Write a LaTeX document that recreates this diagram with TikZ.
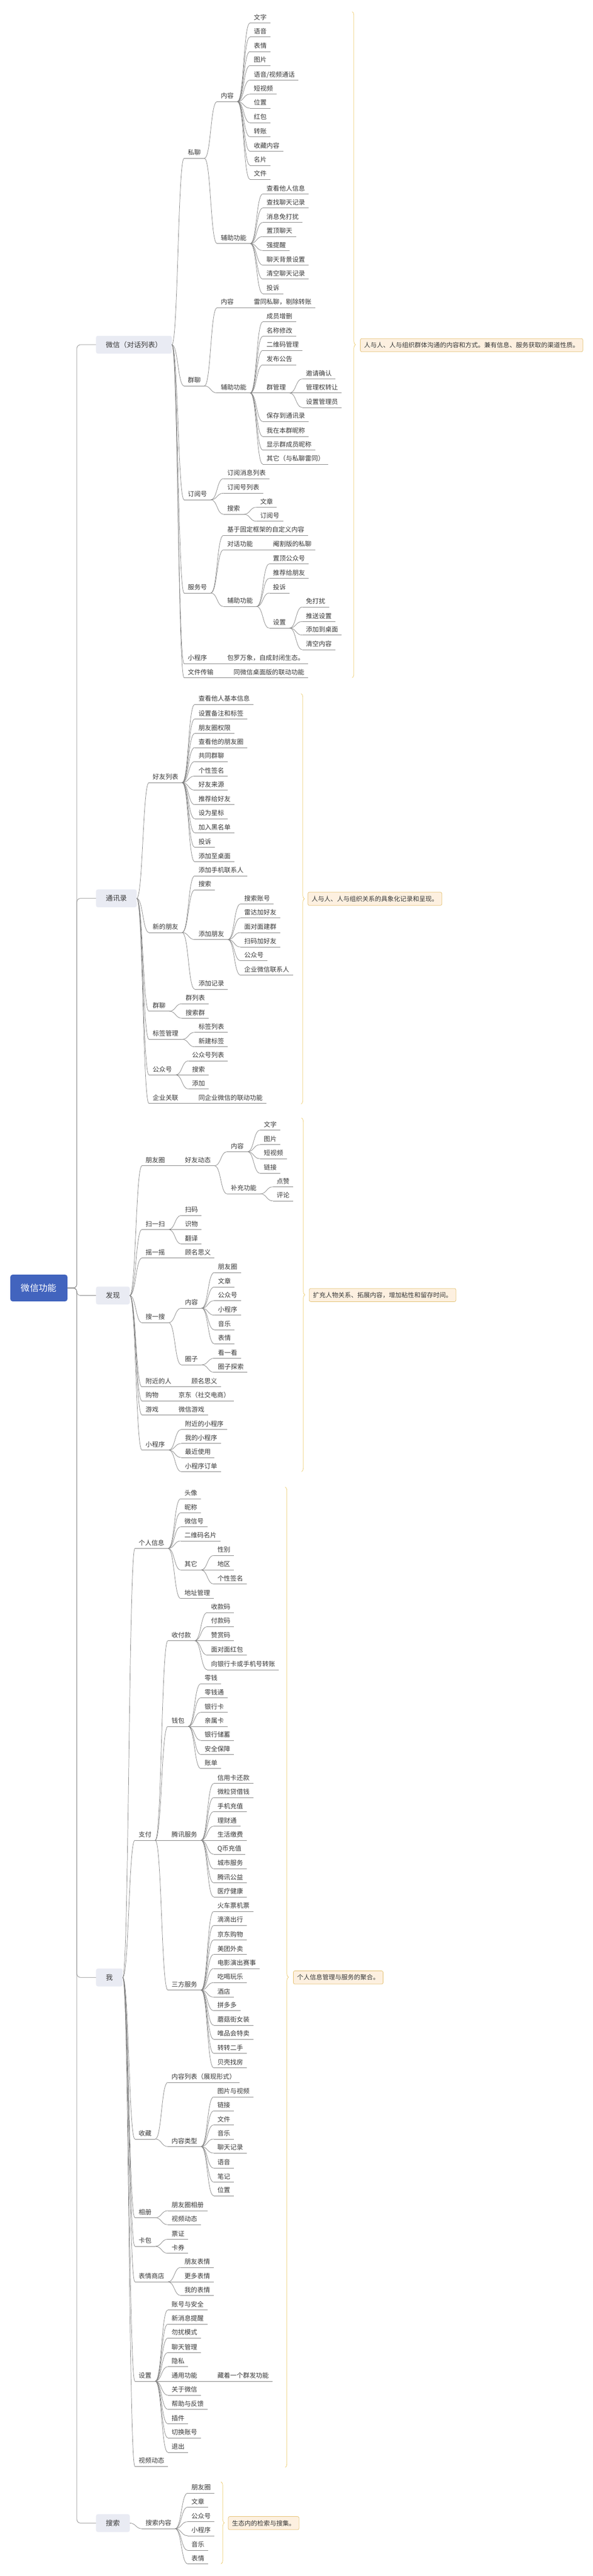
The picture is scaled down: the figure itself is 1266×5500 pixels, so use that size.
\documentclass[tikz,border=0pt]{standalone}
\usepackage{fontspec}
\setmainfont{Noto Sans CJK SC}
\usetikzlibrary{calc,decorations.pathreplacing}
\definecolor{lineC}{HTML}{808080}
\definecolor{txtC}{HTML}{383838}
\definecolor{rootC}{HTML}{4264BE}
\definecolor{lvC}{HTML}{E9EBF3}
\definecolor{noteF}{HTML}{FDF0E0}
\definecolor{noteD}{HTML}{E3BE6A}
\definecolor{braceC}{HTML}{ECC865}
\tikzset{
  lf/.style={anchor=south west, inner xsep=8pt, inner ysep=5pt, outer sep=0pt,
    text height=11pt, text depth=2pt, font=\fontsize{13.7}{14}\selectfont, text=txtC},
  con/.style={draw=lineC, line width=0.8pt},
  lvbox/.style={anchor=west, fill=lvC, rounded corners=4pt, minimum height=38pt,
    inner xsep=21pt, outer sep=0pt, font=\fontsize{15}{16}\selectfont, text=txtC},
  rootbox/.style={fill=rootC, rounded corners=5pt, minimum width=122pt, minimum height=57pt,
    outer sep=0pt, font=\fontsize{19}{20}\selectfont, text=white},
  notebox/.style={anchor=west, fill=noteF, draw=noteD, line width=0.8pt, rounded corners=3pt,
    minimum height=28pt, inner xsep=8pt, font=\fontsize{13.5}{14}\selectfont, text=txtC},
  bracestyle/.style={draw=braceC, line width=0.8pt, decorate, decoration={brace, amplitude=7pt}}
}
\newcounter{lfc}
\newcommand\LF[4]{%
  \path let \p1=(#2.south east) in node[lf] (#1) at (\x1+27pt,-#3pt) {#4};
  \draw[con] (#1.south west) -- (#1.south east);
  \draw[con] (#2.south east) .. controls +(14pt,0pt) and +(-14pt,0pt) .. (#1.south west);}
\newcommand\LB[4]{%
  \path let \p1=(#2.east) in node[lf] (#1) at (\x1+26pt,-#3pt) {#4};
  \draw[con] (#1.south west) -- (#1.south east);
  \draw[con] (#2.east) .. controls +(13pt,0pt) and +(-13pt,0pt) .. (#1.south west);}
\newcommand\LL[3]{\stepcounter{lfc}\edef\curname{lf\arabic{lfc}}\LF{\curname}{#1}{#2}{#3}}
\begin{document}
\begin{tikzpicture}[x=1pt,y=1pt]
\useasboundingbox (0,0) rectangle (1266,-5500);
\fill[white] (0,0) rectangle (1266,-5500);
% root and level-1
\node[rootbox] (root) at (83,-2750) {微信功能};
\node[lvbox] (wx) at (205,-736) {微信（对话列表）};
\node[lvbox] (tx) at (205,-1918) {通讯录};
\node[lvbox] (fx) at (205,-2766) {发现};
\node[lvbox] (me) at (205,-4222) {我};
\node[lvbox] (ssx) at (205,-5387) {搜索};
\coordinate (spine) at (164,-2750);
\foreach \b in {wx,tx,fx,me,ssx}{
  \draw[con, rounded corners=8pt] (root.east) -- (spine) |- (\b.west);
}
% notes and braces
\draw[bracestyle] (752,-25) -- (752,-1447);
\node[notebox] (n1) at (769,-737) {人与人、人与组织群体沟通的内容和方式。兼有信息、服务获取的渠道性质。};
\draw[bracestyle] (643,-1481) -- (643,-2357);
\node[notebox] (n2) at (657,-1919) {人与人、人与组织关系的具象化记录和呈现。};
\draw[bracestyle] (644,-2387) -- (644,-3142);
\node[notebox] (n3) at (660,-2765) {扩充人物关系、拓展内容，增加粘性和留存时间。};
\draw[bracestyle] (609,-3175) -- (609,-5268);
\node[notebox] (n4) at (626,-4222) {个人信息管理与服务的聚合。};
\draw[bracestyle] (472,-5299) -- (472,-5474);
\node[notebox] (n5) at (487,-5387) {生态内的检索与搜集。};

% ===== 微信（对话列表）
\LB{p}{wx}{338}{私聊}
\LF{pn}{p}{217}{内容}
\LL{pn}{49}{文字}
\LL{pn}{79}{语音}
\LL{pn}{110}{表情}
\LL{pn}{140}{图片}
\LL{pn}{171}{语音/视频通话}
\LL{pn}{201}{短视频}
\LL{pn}{231}{位置}
\LL{pn}{262}{红包}
\LL{pn}{292}{转账}
\LL{pn}{323}{收藏内容}
\LL{pn}{353}{名片}
\LL{pn}{383}{文件}
\LF{pf}{p}{520}{辅助功能}
\LL{pf}{414}{查看他人信息}
\LL{pf}{444}{查找聊天记录}
\LL{pf}{475}{消息免打扰}
\LL{pf}{505}{置顶聊天}
\LL{pf}{535}{强提醒}
\LL{pf}{566}{聊天背景设置}
\LL{pf}{596}{清空聊天记录}
\LL{pf}{627}{投诉}
\LB{g}{wx}{824}{群聊}
\LF{gn}{g}{657}{内容}
\LL{gn}{657}{雷同私聊，剔除转账}
\LF{gf}{g}{839}{辅助功能}
\LL{gf}{687}{成员增删}
\LL{gf}{718}{名称修改}
\LL{gf}{748}{二维码管理}
\LL{gf}{779}{发布公告}
\LF{gm}{gf}{839}{群管理}
\LL{gm}{809}{邀请确认}
\LL{gm}{839}{管理权转让}
\LL{gm}{870}{设置管理员}
\LL{gf}{900}{保存到通讯录}
\LL{gf}{932}{我在本群昵称}
\LL{gf}{961}{显示群成员昵称}
\LL{gf}{991}{其它（与私聊雷同）}
\LB{d}{wx}{1067}{订阅号}
\LL{d}{1022}{订阅消息列表}
\LL{d}{1053}{订阅号列表}
\LF{ds}{d}{1098}{搜索}
\LL{ds}{1083}{文章}
\LL{ds}{1113}{订阅号}
\LB{s}{wx}{1266}{服务号}
\LL{s}{1143}{基于固定框架的自定义内容}
\LF{sd}{s}{1174}{对话功能}
\LL{sd}{1174}{阉割版的私聊}
\LF{sf}{s}{1295}{辅助功能}
\LL{sf}{1204}{置顶公众号}
\LL{sf}{1235}{推荐给朋友}
\LL{sf}{1266}{投诉}
\LF{sfs}{sf}{1341}{设置}
\LL{sfs}{1296}{免打扰}
\LL{sfs}{1327}{推送设置}
\LL{sfs}{1356}{添加到桌面}
\LL{sfs}{1387}{清空内容}
\LB{m}{wx}{1417}{小程序}
\LL{m}{1417}{包罗万象，自成封闭生态。}
\LB{f}{wx}{1447}{文件传输}
\LL{f}{1447}{同微信桌面版的联动功能}

% ===== 通讯录
\LB{hy}{tx}{1671}{好友列表}
\LL{hy}{1504}{查看他人基本信息}
\LL{hy}{1535}{设置备注和标签}
\LL{hy}{1566}{朋友圈权限}
\LL{hy}{1596}{查看他的朋友圈}
\LL{hy}{1626}{共同群聊}
\LL{hy}{1657}{个性签名}
\LL{hy}{1687}{好友来源}
\LL{hy}{1718}{推荐给好友}
\LL{hy}{1748}{设为星标}
\LL{hy}{1778}{加入黑名单}
\LL{hy}{1809}{投诉}
\LL{hy}{1840}{添加至桌面}
\LB{xp}{tx}{1991}{新的朋友}
\LL{xp}{1870}{添加手机联系人}
\LL{xp}{1900}{搜索}
\LF{xpa}{xp}{2006}{添加朋友}
\LL{xpa}{1930}{搜索账号}
\LL{xpa}{1960}{雷达加好友}
\LL{xpa}{1991}{面对面建群}
\LL{xpa}{2022}{扫码加好友}
\LL{xpa}{2051}{公众号}
\LL{xpa}{2082}{企业微信联系人}
\LL{xp}{2112}{添加记录}
\LB{tq}{tx}{2159}{群聊}
\LL{tq}{2143}{群列表}
\LL{tq}{2174}{搜索群}
\LB{tb}{tx}{2219}{标签管理}
\LL{tb}{2204}{标签列表}
\LL{tb}{2235}{新建标签}
\LB{tg}{tx}{2295}{公众号}
\LL{tg}{2265}{公众号列表}
\LL{tg}{2295}{搜索}
\LL{tg}{2325}{添加}
\LB{tz}{tx}{2356}{企业关联}
\LL{tz}{2356}{同企业微信的联动功能}

% ===== 发现
\LB{pyq}{fx}{2489}{朋友圈}
\LF{hd}{pyq}{2489}{好友动态}
\LF{hdn}{hd}{2459}{内容}
\LL{hdn}{2413}{文字}
\LL{hdn}{2444}{图片}
\LL{hdn}{2474}{短视频}
\LL{hdn}{2505}{链接}
\LF{hdb}{hd}{2549}{补充功能}
\LL{hdb}{2534}{点赞}
\LL{hdb}{2564}{评论}
\LB{ss}{fx}{2625}{扫一扫}
\LL{ss}{2595}{扫码}
\LL{ss}{2625}{识物}
\LL{ss}{2656}{翻译}
\LB{yy}{fx}{2686}{摇一摇}
\LL{yy}{2686}{顾名思义}
\LB{sy}{fx}{2824}{搜一搜}
\LF{syn}{sy}{2793}{内容}
\LL{syn}{2717}{朋友圈}
\LL{syn}{2748}{文章}
\LL{syn}{2777}{公众号}
\LL{syn}{2808}{小程序}
\LL{syn}{2839}{音乐}
\LL{syn}{2869}{表情}
\LF{syq}{sy}{2914}{圈子}
\LL{syq}{2900}{看一看}
\LL{syq}{2930}{圈子探索}
\LB{fj}{fx}{2961}{附近的人}
\LL{fj}{2961}{顾名思义}
\LB{gw}{fx}{2991}{购物}
\LL{gw}{2991}{京东（社交电商）}
\LB{yx}{fx}{3021}{游戏}
\LL{yx}{3021}{微信游戏}
\LB{xc}{fx}{3096}{小程序}
\LL{xc}{3052}{附近的小程序}
\LL{xc}{3082}{我的小程序}
\LL{xc}{3112}{最近使用}
\LL{xc}{3142}{小程序订单}

% ===== 我
\LB{gr}{me}{3306}{个人信息}
\LL{gr}{3200}{头像}
\LL{gr}{3230}{昵称}
\LL{gr}{3260}{微信号}
\LL{gr}{3290}{二维码名片}
\LF{gro}{gr}{3352}{其它}
\LL{gro}{3321}{性别}
\LL{gro}{3352}{地区}
\LL{gro}{3382}{个性签名}
\LL{gr}{3413}{地址管理}
\LB{zf}{me}{3929}{支付}
\LF{zfs}{zf}{3503}{收付款}
\LL{zfs}{3443}{收款码}
\LL{zfs}{3473}{付款码}
\LL{zfs}{3503}{赞赏码}
\LL{zfs}{3534}{面对面红包}
\LL{zfs}{3565}{向银行卡或手机号转账}
\LF{zfq}{zf}{3686}{钱包}
\LL{zfq}{3595}{零钱}
\LL{zfq}{3625}{零钱通}
\LL{zfq}{3656}{银行卡}
\LL{zfq}{3686}{亲属卡}
\LL{zfq}{3716}{银行储蓄}
\LL{zfq}{3746}{安全保障}
\LL{zfq}{3776}{账单}
\LF{zft}{zf}{3929}{腾讯服务}
\LL{zft}{3808}{信用卡还款}
\LL{zft}{3838}{微粒贷借钱}
\LL{zft}{3868}{手机充值}
\LL{zft}{3899}{理财通}
\LL{zft}{3929}{生活缴费}
\LL{zft}{3959}{Q币充值}
\LL{zft}{3990}{城市服务}
\LL{zft}{4020}{腾讯公益}
\LL{zft}{4050}{医疗健康}
\LF{zfd}{zf}{4249}{三方服务}
\LL{zfd}{4081}{火车票机票}
\LL{zfd}{4111}{滴滴出行}
\LL{zfd}{4142}{京东购物}
\LL{zfd}{4173}{美团外卖}
\LL{zfd}{4203}{电影演出赛事}
\LL{zfd}{4233}{吃喝玩乐}
\LL{zfd}{4264}{酒店}
\LL{zfd}{4293}{拼多多}
\LL{zfd}{4324}{蘑菇街女装}
\LL{zfd}{4354}{唯品会特卖}
\LL{zfd}{4384}{转转二手}
\LL{zfd}{4415}{贝壳找房}
\LB{sc}{me}{4567}{收藏}
\LL{sc}{4446}{内容列表（展现形式）}
\LF{scl}{sc}{4583}{内容类型}
\LL{scl}{4477}{图片与视频}
\LL{scl}{4507}{链接}
\LL{scl}{4537}{文件}
\LL{scl}{4567}{音乐}
\LL{scl}{4597}{聊天记录}
\LL{scl}{4629}{语音}
\LL{scl}{4659}{笔记}
\LL{scl}{4688}{位置}
\LB{xcc}{me}{4735}{相册}
\LL{xcc}{4720}{朋友圈相册}
\LL{xcc}{4750}{视频动态}
\LB{kb}{me}{4796}{卡包}
\LL{kb}{4781}{票证}
\LL{kb}{4811}{卡券}
\LB{bq}{me}{4872}{表情商店}
\LL{bq}{4841}{朋友表情}
\LL{bq}{4872}{更多表情}
\LL{bq}{4901}{我的表情}
\LB{sz}{me}{5084}{设置}
\LL{sz}{4932}{账号与安全}
\LL{sz}{4962}{新消息提醒}
\LL{sz}{4992}{勿扰模式}
\LL{sz}{5023}{聊天管理}
\LL{sz}{5053}{隐私}
\LF{szt}{sz}{5084}{通用功能}
\LL{szt}{5084}{藏着一个群发功能}
\LL{sz}{5114}{关于微信}
\LL{sz}{5144}{帮助与反馈}
\LL{sz}{5175}{插件}
\LL{sz}{5205}{切换账号}
\LL{sz}{5236}{退出}
\LB{sv}{me}{5266}{视频动态}

% ===== 搜索
\LB{ssn}{ssx}{5399}{搜索内容}
\LL{ssn}{5323}{朋友圈}
\LL{ssn}{5353}{文章}
\LL{ssn}{5384}{公众号}
\LL{ssn}{5414}{小程序}
\LL{ssn}{5445}{音乐}
\LL{ssn}{5474}{表情}
\end{tikzpicture}
\end{document}
